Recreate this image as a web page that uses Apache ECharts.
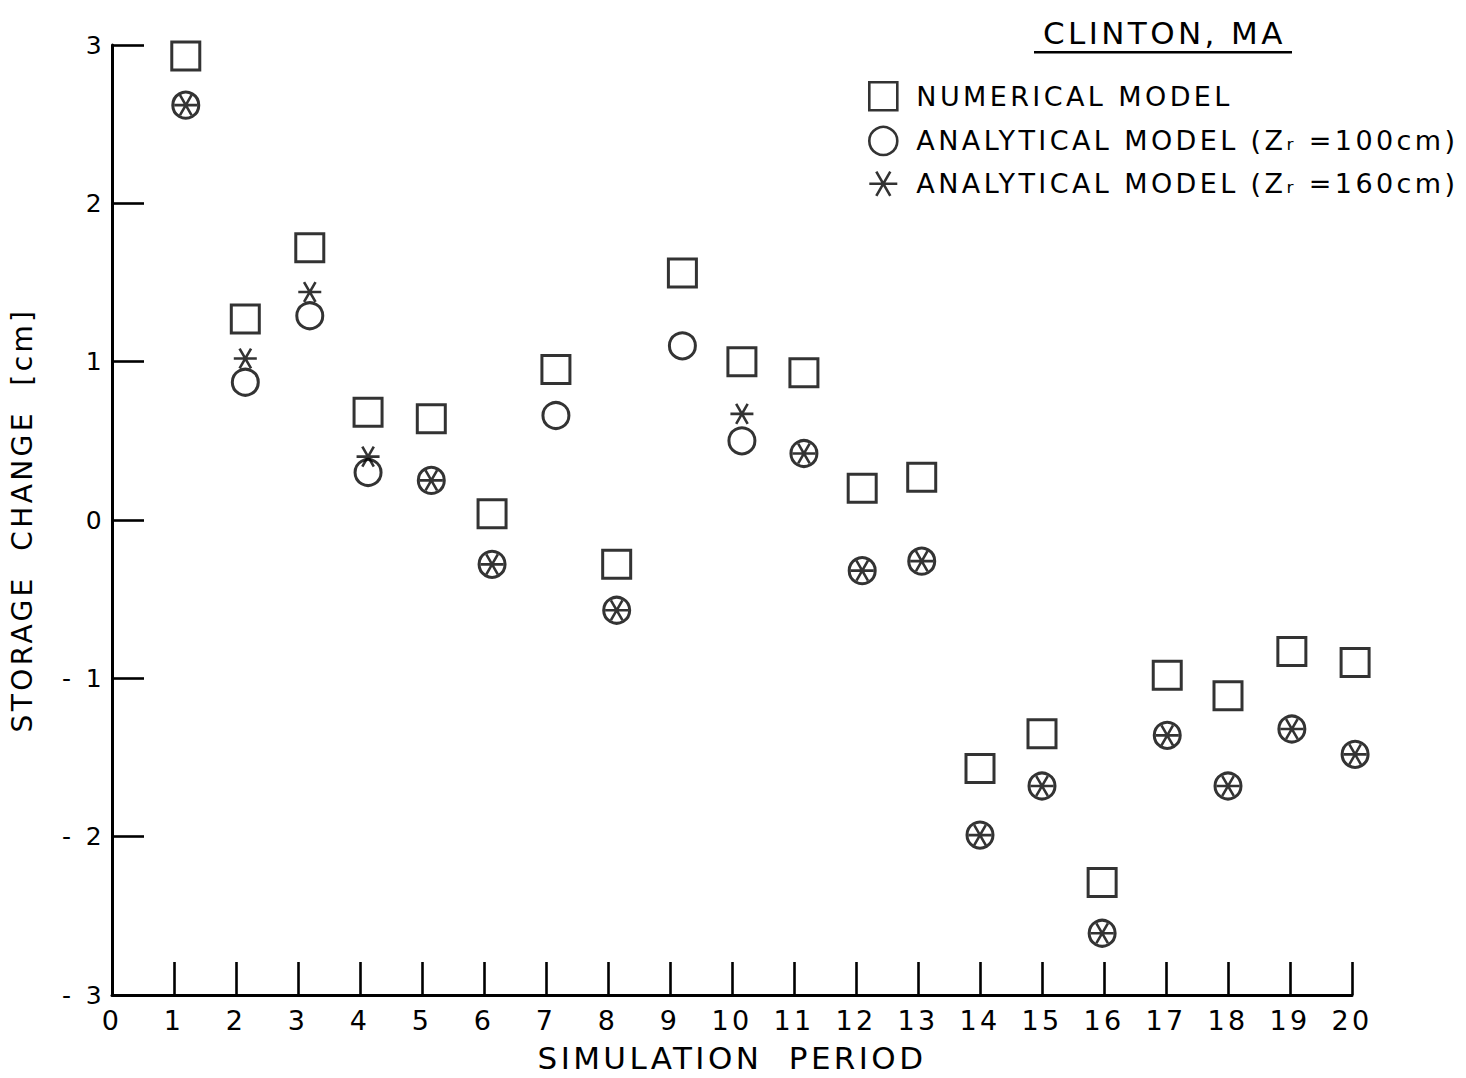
<!DOCTYPE html>
<html>
<head>
<meta charset="utf-8">
<title>Clinton, MA storage change</title>
<script src="https://cdn.jsdelivr.net/npm/echarts@6/dist/echarts.min.js"></script>
<style>
  html, body { margin: 0; padding: 0; background: #fff; }
  #chart { width: 1466px; height: 1078px; }
  /* hand-lettered look: widely spaced capitals */
  #chart svg text { letter-spacing: 3.4px; }
</style>
</head>
<body>
<div id="chart"></div>
<script>
// Simulation periods and the horizontal position each group of markers sits at
const periods = [1, 2, 3, 4, 5, 6, 7, 8, 9, 10, 11, 12, 13, 14, 15, 16, 17, 18, 19, 20];
const plotX = [1.19, 2.15, 3.19, 4.13, 5.15, 6.13, 7.16, 8.14, 9.2, 10.16, 11.16, 12.1, 13.06, 14.0, 15.0, 15.97, 17.02, 18.0, 19.03, 20.05];

// Storage change [cm]
const numericalModel = [2.93, 1.27, 1.72, 0.68, 0.64, 0.04, 0.95, -0.28, 1.56, 1.00, 0.93, 0.20, 0.27, -1.57, -1.35, -2.29, -0.98, -1.11, -0.83, -0.90];
const analytical100 = [2.62, 0.87, 1.29, 0.30, 0.25, -0.28, 0.66, -0.57, 1.10, 0.50, 0.42, -0.32, -0.26, -1.99, -1.68, -2.61, -1.36, -1.68, -1.32, -1.48];
const analytical160 = [2.62, 1.02, 1.44, 0.40, 0.25, -0.28, null, -0.57, null, 0.67, 0.42, -0.32, -0.26, -1.99, -1.68, -2.61, -1.36, -1.68, -1.32, -1.48];

// Axis ticks
const yTicks = [-3, -2, -1, 0, 1, 2, 3];
const xTickStep = 1;

const seriesNames = [
  'NUMERICAL MODEL',
  'ANALYTICAL MODEL (Z\u1D63 =100cm)',
  'ANALYTICAL MODEL (Z\u1D63 =160cm)'
];

const ink = '#000000';
const font = '"DejaVu Sans", "Liberation Sans", sans-serif';

// six-armed asterisk: one horizontal bar and two diagonals
const starPath = 'path://M0,10 L20,10 M5,1.34 L15,18.66 M15,1.34 L5,18.66';

function pairs(values) {
  const out = [];
  values.forEach((v, i) => { if (v !== null) out.push([plotX[i], v]); });
  return out;
}

const hollow = { color: 'rgba(0,0,0,0)', borderColor: ink, borderWidth: 3 };

const chart = echarts.init(document.getElementById('chart'), null, { renderer: 'svg' });

chart.setOption({
  backgroundColor: '#ffffff',
  animation: false,
  title: {
    text: 'CLINTON, MA',
    left: 1038,
    top: 12,
    textStyle: { fontFamily: font, fontSize: 31, fontWeight: 'normal', color: ink }
  },
  graphic: [{
    type: 'rect',
    left: 1034,
    top: 51,
    shape: { width: 258, height: 2.5 },
    style: { fill: ink }
  }],
  legend: {
    orient: 'vertical',
    left: 863,
    top: 76,
    itemWidth: 28,
    itemHeight: 28,
    itemGap: 14,
    selectedMode: false,
    data: [
      { name: seriesNames[0], icon: 'rect' },
      { name: seriesNames[1], icon: 'circle' },
      { name: seriesNames[2], icon: starPath }
    ],
    itemStyle: { color: 'rgba(0,0,0,0)', borderColor: ink, borderWidth: 2.6 },
    textStyle: {
      fontFamily: font,
      fontSize: 27,
      color: ink,
      padding: [0, 0, 0, 14]
    }
  },
  grid: { left: 111, right: 114, top: 45, bottom: 80, containLabel: false },
  xAxis: {
    type: 'value',
    min: 0,
    max: periods[periods.length - 1],
    interval: xTickStep,
    name: 'SIMULATION  PERIOD',
    nameLocation: 'middle',
    nameGap: 47,
    nameTextStyle: { fontFamily: font, fontSize: 31, color: ink },
    axisLine: { show: true, onZero: false, lineStyle: { color: ink, width: 3 } },
    axisTick: { show: true, inside: true, length: 33, lineStyle: { color: ink, width: 2.6 } },
    axisLabel: { fontFamily: font, fontSize: 27, color: ink, margin: 12 },
    splitLine: { show: false }
  },
  yAxis: {
    type: 'value',
    min: yTicks[0],
    max: yTicks[yTicks.length - 1],
    interval: 1,
    name: 'STORAGE  CHANGE  [cm]',
    nameLocation: 'middle',
    nameGap: 76,
    nameRotate: 90,
    nameTextStyle: { fontFamily: font, fontSize: 28, color: ink },
    axisLine: { show: true, onZero: false, lineStyle: { color: ink, width: 3 } },
    axisTick: { show: true, inside: true, length: 32, lineStyle: { color: ink, width: 2.6 } },
    axisLabel: {
      fontFamily: font, fontSize: 25, color: ink, margin: 7,
      formatter: v => (v < 0 ? '- ' + Math.abs(v) : String(v))
    },
    splitLine: { show: false }
  },
  series: [
    {
      name: seriesNames[0],
      type: 'scatter',
      symbol: 'rect',
      symbolSize: 28,
      clip: false,
      data: pairs(numericalModel),
      itemStyle: hollow,
      z: 2
    },
    {
      name: seriesNames[1],
      type: 'scatter',
      symbol: 'circle',
      symbolSize: 26,
      clip: false,
      data: pairs(analytical100),
      itemStyle: hollow,
      z: 3
    },
    {
      name: seriesNames[2],
      type: 'scatter',
      symbol: starPath,
      symbolKeepAspect: true,
      symbolSize: 23,
      clip: false,
      data: pairs(analytical160),
      itemStyle: { color: 'rgba(0,0,0,0)', borderColor: ink, borderWidth: 2.6 },
      z: 4
    }
  ]
});
</script>
</body>
</html>
